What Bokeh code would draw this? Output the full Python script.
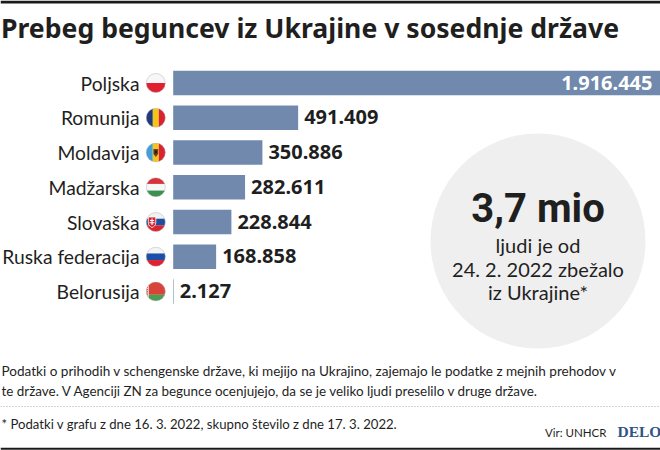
from urllib.parse import quote
from bokeh.plotting import figure
from bokeh.models import Range1d, Label, Span, BoxAnnotation, ColumnDataSource
from bokeh.core.properties import value
from bokeh.embed import file_html
from bokeh.resources import INLINE

countries = ["Poljska", "Romunija", "Moldavija", "Madžarska", "Slovaška", "Ruska federacija", "Belorusija"]
refugees = [1916445, 491409, 350886, 282611, 228844, 168858, 2127]
value_labels = ["1.916.445", "491.409", "350.886", "282.611", "228.844", "168.858", "2.127"]

TITLE = "Prebeg beguncev iz Ukrajine v sosednje države"
BIG = "3,7 mio"
SUB = ["ljudi je od", "24. 2. 2022 zbežalo", "iz Ukrajine*"]
NOTE = ["Podatki o prihodih v schengenske države, ki mejijo na Ukrajino, zajemajo le podatke z mejnih prehodov v",
        "te države. V Agenciji ZN za begunce ocenjujejo, da se je veliko ljudi preselilo v druge države."]
FOOT = "* Podatki v grafu z dne 16. 3. 2022, skupno število z dne 17. 3. 2022."
SOURCE = "Vir: UNHCR"
BRAND = "DELO"

W, H = 660, 450
BAR0 = 172.7
FIRST_Y, STEP_Y = 82.5, 34.75
BAR = "#7089ac"
INK = "#1f1f1f"
SANS = "Lato"
SHIFT = 0.34  # the svg backend draws alphabetic text this fraction of the size too low


def svg_flag(body):
    s = ('<svg xmlns="http://www.w3.org/2000/svg" width="20" height="20" viewBox="0 0 20 20">'
         '<clipPath id="c"><circle cx="10" cy="10" r="9.6"/></clipPath><g clip-path="url(#c)">'
         + body + '</g><circle cx="10" cy="10" r="9.5" fill="none" stroke="#b5b5b5" stroke-width="0.5"/></svg>')
    return "data:image/svg+xml," + quote(s)


def r(x, y, w, h, c):
    return f'<rect x="{x}" y="{y}" width="{w}" height="{h}" fill="{c}"/>'


flags = [
    svg_flag(r(0, 0, 20, 10, "#f7f7f7") + r(0, 10, 20, 10, "#e0202f")),
    svg_flag(r(0, 0, 7, 20, "#1d3a7e") + r(7, 0, 6, 20, "#f5c518") + r(13, 0, 7, 20, "#d9232e")),
    svg_flag(r(0, 0, 7, 20, "#3f9fd8") + r(7, 0, 6, 20, "#f5c518") + r(13, 0, 7, 20, "#d9232e")
             + '<path d="M7.6 6.5h4.8v5l-2.4 3-2.4-3z" fill="#7a3b1e"/><rect x="8.8" y="8" width="2.4" height="3" fill="#26201c"/>'),
    svg_flag(r(0, 0, 20, 6.7, "#d9323a") + r(0, 6.7, 20, 6.6, "#f7f7f7") + r(0, 13.3, 20, 6.7, "#3d9150")),
    svg_flag(r(0, 0, 20, 6.7, "#f2f2f2") + r(0, 6.7, 20, 6.6, "#1d4f9c") + r(0, 13.3, 20, 6.7, "#d9232e")
             + '<path d="M2.5 5h7.5v6c0 2.5-2 3.6-3.7 4.6C4.5 14.6 2.5 13.5 2.5 11z" fill="#d9232e" stroke="#fff" stroke-width="0.8"/>'
             + '<path d="M5.7 6.5h1.1v1.5h1.5v1H6.8v1.2h1.9v1H6.8V13H5.7v-1.8H3.8v-1h1.9V9H4.2V8h1.5z" fill="#fff"/>'),
    svg_flag(r(0, 0, 20, 6.7, "#f4f4f4") + r(0, 6.7, 20, 6.6, "#1c4fa8") + r(0, 13.3, 20, 6.7, "#e0202f")),
    svg_flag(r(0, 0, 20, 13.3, "#d9443a") + r(0, 13.3, 20, 6.7, "#4d9e55") + r(0, 0, 3, 20, "#eee6da")
             + '<path d="M1.5 1v18" stroke="#c33" stroke-width="1.2" stroke-dasharray="1.2 1"/>'),
]

k = 487.3 / refugees[0]
p = figure(width=W, height=H, output_backend="svg", toolbar_location=None,
           x_range=Range1d(-BAR0 / k, refugees[0]),
           y_range=Range1d((H - FIRST_Y) / STEP_Y, -FIRST_Y / STEP_Y),
           x_axis_location=None, y_axis_location=None, min_border=0, outline_line_color=None)
p.grid.visible = False
p.background_fill_color = "white"

rows = list(range(len(countries)))
src = ColumnDataSource(dict(y=rows, v=refugees, name=countries, lab=value_labels, flag=flags,
                            fx=[-(BAR0 - 155.3) / k] * len(rows), zero=[0] * len(rows)))

p.hbar(y="y", left="zero", right="v", height=24.5 / STEP_Y, source=src, fill_color=BAR, line_color=None)

p.image_url(url="flag", x="fx", y="y", w=20, h=20, w_units="screen", h_units="screen",
            anchor="center", source=src)

p.text(x="zero", y="y", text="name", source=src, text_font=value(SANS), text_font_size="19.3px",
       text_color=INK, text_align="right", text_baseline="alphabetic", x_offset=-33.7,
       y_offset=6.8 - SHIFT * 19.3)

small = ColumnDataSource(dict(x=refugees[1:], y=rows[1:], t=value_labels[1:]))
p.text(x="x", y="y", text="t", source=small, text_font=value("Noto Sans"), text_font_style="bold",
       text_font_size="20px", text_color=INK, text_align="left", text_baseline="alphabetic",
       x_offset=6, y_offset=6.5 - SHIFT * 20)
big = ColumnDataSource(dict(x=refugees[:1], y=rows[:1], t=value_labels[:1]))
p.text(x="x", y="y", text="t", source=big, text_font=value("Noto Sans"), text_font_style="bold",
       text_font_size="20px", text_color="#ffffff", text_align="right", text_baseline="alphabetic",
       x_offset=-8, y_offset=6.5 - SHIFT * 20)

p.scatter(x=[(537.5 - BAR0) / k], y=[(240.5 - FIRST_Y) / STEP_Y], size=215, marker="circle",
          fill_color="#efefef", line_color=None)


def L(text, px, py, size, font=SANS, style="normal", align="left", color=INK):
    p.add_layout(Label(x=px, y=H - py + SHIFT * size, x_units="screen", y_units="screen", text=text,
                       text_font=font, text_font_size=f"{size}px", text_font_style=style,
                       text_align=align, text_baseline="alphabetic", text_color=color))


L(TITLE, 0.5, 36.7, 26.6, "Noto Sans", "bold")
L(BIG, 537.5, 221.7, 40, "Roboto", "bold", "center")
for t, y in zip(SUB, [251.7, 275, 298]):
    L(t, 537.5, y, 20, SANS, "normal", "center")
L(NOTE[0], 1, 375, 13.55)
L(NOTE[1], 1, 395, 13.45)
L(FOOT, 1, 428, 13.15)
L(SOURCE, 606, 436, 11.5, SANS, "normal", "right")
L(BRAND, 617, 436, 15.5, "Liberation Serif", "bold", "left", "#2f5488")

p.add_layout(Span(location=H - 406, location_units="screen", dimension="width",
                  line_color="#a8a8a8", line_width=1, line_dash="1 2"))
p.add_layout(BoxAnnotation(left=0, right=W, top=H, bottom=H - 3, left_units="screen", right_units="screen",
                           top_units="screen", bottom_units="screen", fill_color="#1a1a1a", fill_alpha=1,
                           line_color=None))
p.add_layout(BoxAnnotation(left=0, right=W, top=H - 447.3, bottom=H - 449.3, left_units="screen",
                           right_units="screen", top_units="screen", bottom_units="screen",
                           fill_color="#1a1a1a", fill_alpha=1, line_color=None))

open("out.html", "w").write(file_html(p, INLINE))
